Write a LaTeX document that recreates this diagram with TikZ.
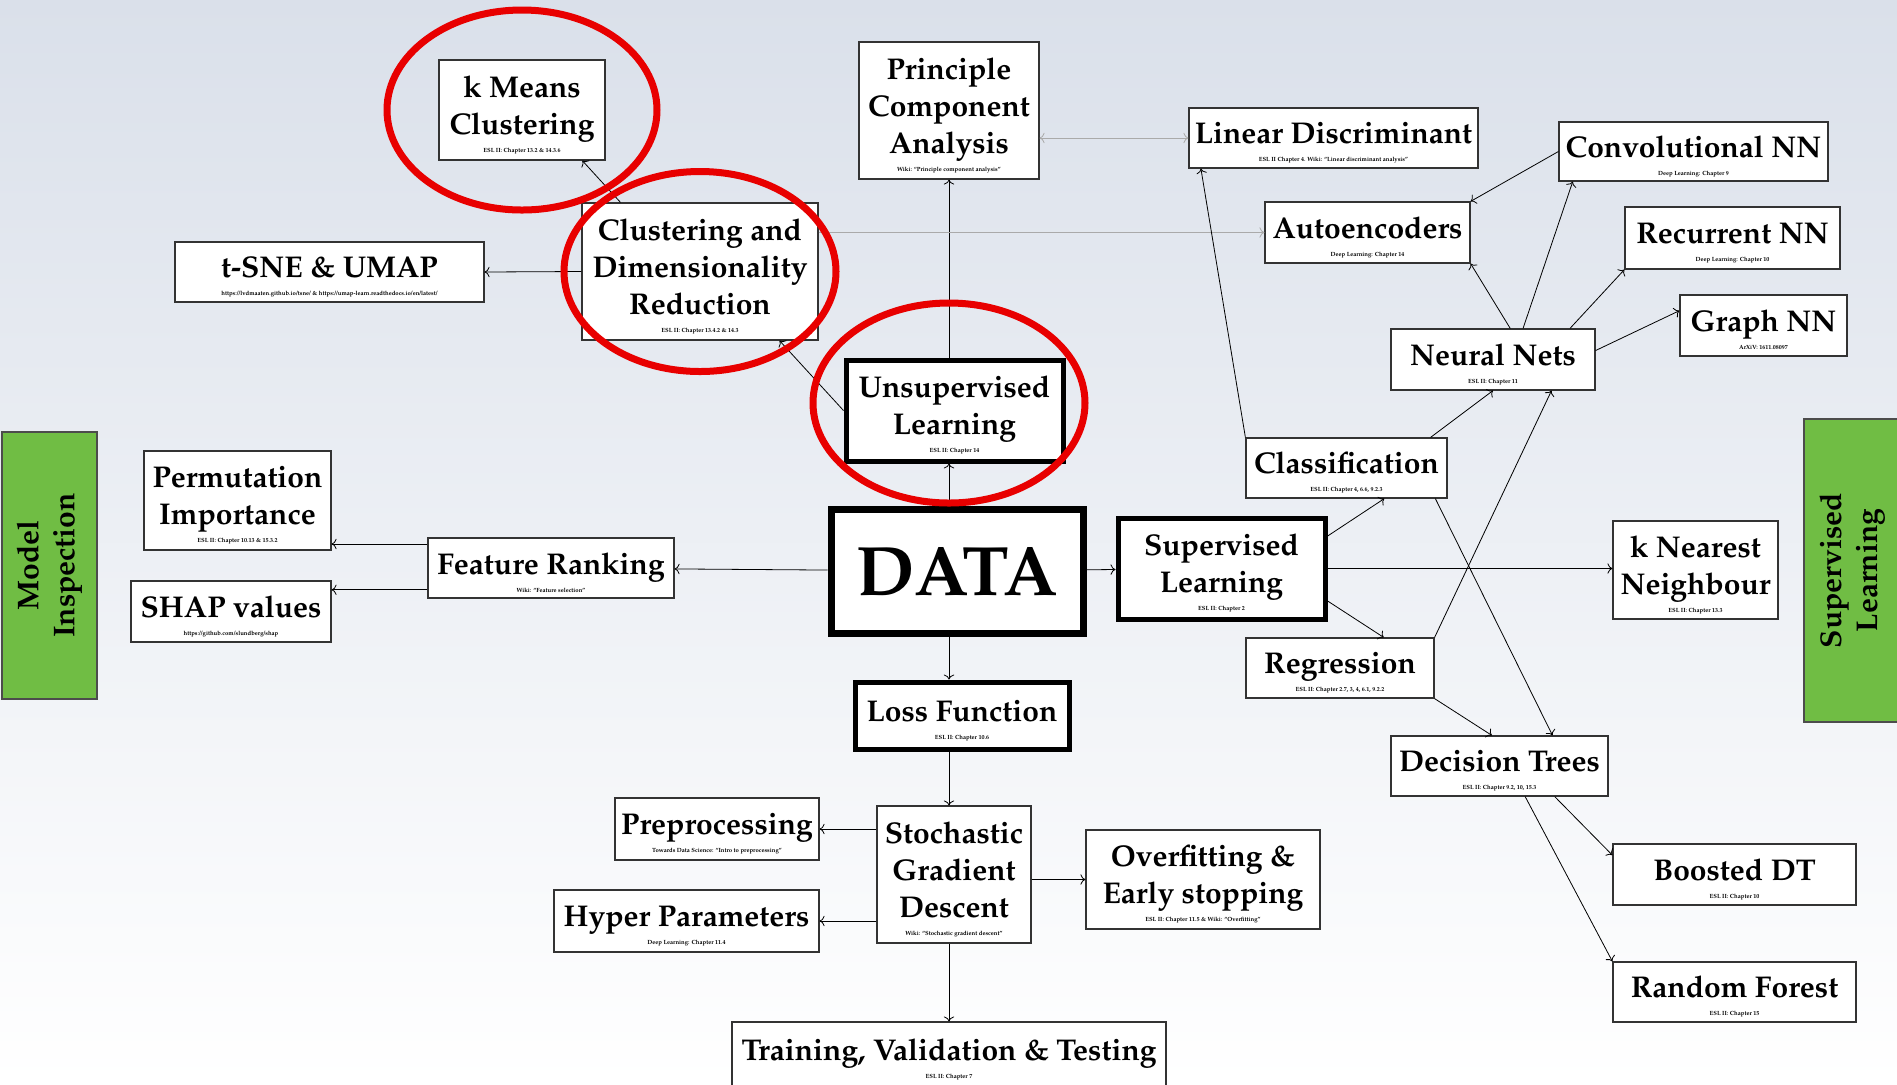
\documentclass[tikz,border=0pt]{standalone}
\usepackage[T1]{fontenc}
\usepackage{mathpazo}
\usepackage{tikz}
\usetikzlibrary{arrows.meta, positioning, calc}

\definecolor{ringred}{RGB}{232,0,0}
\definecolor{insgreen}{RGB}{112,189,68}
\definecolor{bgtop}{RGB}{218,224,234}
\definecolor{linkgrey}{RGB}{170,170,170}
\newcommand{\hd}{\rule{0pt}{15.5pt}}
\newcommand{\src}[1]{\\[-9.5pt]{\fontsize{3}{3.5}\selectfont #1}}

\begin{document}
\begin{tikzpicture}[x=0.5pt, y=-0.5pt,
    box/.style={draw=black!80, line width=0.6pt, fill=white, align=center, inner sep=1pt,
        font=\bfseries\fontsize{15}{18.5}\selectfont},
    hub/.style={box, draw=black, line width=2.5pt},
    side/.style={draw=black!70, line width=0.6pt, fill=insgreen, align=center,
        font=\bfseries\fontsize{15}{18}\selectfont},
    ring/.style={draw=ringred, line width=3.5pt}]

    % background
    \shade[top color=bgtop, middle color=bgtop!45, bottom color=white] (0,0) rectangle (1897,1084);
    \useasboundingbox (0,0) rectangle (1897,1084);

    % centre
    \node[hub, line width=3.5pt, minimum width=126pt, minimum height=62pt,
        font=\bfseries\fontsize{35}{38}\selectfont] (data) at (957,571) {DATA};

    % unsupervised
    \node[hub, minimum width=108.5pt, minimum height=50.5pt] (unsup) at (954.5,410.5)
        {\hd Unsupervised\\Learning\src{ESL II: Chapter 14}};
    \node[box, minimum width=90pt, minimum height=68.5pt] (pca) at (949,110.5)
        {\hd Principle\\Component\\Analysis\src{Wiki: ``Principle component analysis''}};
    \node[box, minimum width=118pt, minimum height=68.5pt] (cdr) at (700,271.5)
        {\hd Clustering and\\Dimensionality\\Reduction\src{ESL II: Chapter 13.4.2 \& 14.3}};
    \node[box, minimum width=83pt, minimum height=50pt] (km) at (522,110)
        {\hd k Means\\Clustering\src{ESL II: Chapter 13.2 \& 14.3.6}};
    \node[box, minimum width=154.5pt, minimum height=30pt] (tsne) at (329.5,272)
        {\hd t-SNE \& UMAP\src{https://lvdmaaten.github.io/tsne/ \& https://umap-learn.readthedocs.io/en/latest/}};
    \node[box, minimum width=102.5pt, minimum height=30.5pt] (ae) at (1367.5,232.5)
        {\hd Autoencoders\src{Deep Learning: Chapter 14}};

    % supervised
    \node[hub, minimum width=103.5pt, minimum height=50.5pt] (sup) at (1221.5,568.5)
        {\hd Supervised\\Learning\src{ESL II: Chapter 2}};
    \node[box, minimum width=100.5pt, minimum height=30pt] (cls) at (1346.5,468)
        {\hd Classification\src{ESL II: Chapter 4, 6.6, 9.2.3}};
    \node[box, minimum width=94pt, minimum height=30pt] (reg) at (1340,668)
        {\hd Regression\src{ESL II: Chapter 2.7, 3, 4, 6.1, 9.2.2}};
    \node[box, minimum width=82.5pt, minimum height=49pt] (knn) at (1695.5,570)
        {\hd k Nearest\\Neighbour\src{ESL II: Chapter 13.3}};
    \node[box, minimum width=144.5pt, minimum height=30pt] (lda) at (1333.5,138)
        {\hd Linear Discriminant\src{ESL II Chapter 4. Wiki: ``Linear discriminant analysis''}};
    \node[box, minimum width=102pt, minimum height=30.5pt] (nn) at (1493,359.5)
        {\hd Neural Nets\src{ESL II: Chapter 11}};
    \node[box, minimum width=134.5pt, minimum height=29.5pt] (cnn) at (1693.5,151.5)
        {\hd Convolutional NN\src{Deep Learning: Chapter 9}};
    \node[box, minimum width=107.5pt, minimum height=31pt] (rnn) at (1732.5,238)
        {\hd Recurrent NN\src{Deep Learning: Chapter 10}};
    \node[box, minimum width=83.5pt, minimum height=30.5pt] (gnn) at (1763.5,325.5)
        {\hd Graph NN\src{ArXiV: 1611.08097}};
    \node[box, minimum width=108.5pt, minimum height=30pt] (dt) at (1499.5,766)
        {\hd Decision Trees\src{ESL II: Chapter 9.2, 10, 15.3}};
    \node[box, minimum width=121.5pt, minimum height=30.5pt] (bdt) at (1734.5,874.5)
        {\hd Boosted DT\src{ESL II: Chapter 10}};
    \node[box, minimum width=121.5pt, minimum height=30pt] (rf) at (1734.5,992)
        {\hd Random Forest\src{ESL II: Chapter 15}};

    % inspection
    \node[box, minimum width=123pt, minimum height=30pt] (fr) at (551,568)
        {\hd Feature Ranking\src{Wiki: ``Feature selection''}};
    \node[box, minimum width=93.5pt, minimum height=49.5pt] (perm) at (237.5,500.5)
        {\hd Permutation\\Importance\src{ESL II: Chapter 10.13 \& 15.3.2}};
    \node[box, minimum width=100pt, minimum height=30.5pt] (shap) at (231,611.5)
        {\hd SHAP values\src{https://github.com/slundberg/shap}};

    % training
    \node[hub, minimum width=107pt, minimum height=33.5pt] (loss) at (962,715.5)
        {\hd Loss Function\src{ESL II: Chapter 10.6}};
    \node[box, minimum width=77pt, minimum height=68.5pt] (sgd) at (954,874.5)
        {\hd Stochastic\\Gradient\\Descent\src{Wiki: ``Stochastic gradient descent''}};
    \node[box, minimum width=102pt, minimum height=31pt] (pre) at (717,829)
        {\hd Preprocessing\src{Towards Data Science: ``Intro to preprocessing''}};
    \node[box, minimum width=132.5pt, minimum height=31pt] (hp) at (686.5,921)
        {\hd Hyper Parameters\src{Deep Learning: Chapter 11.4}};
    \node[box, minimum width=117pt, minimum height=49.5pt] (of) at (1203,879.5)
        {\hd Overfitting \&\\Early stopping\src{ESL II: Chapter 11.5 \& Wiki: ``Overfitting''}};
    \node[box, minimum width=217pt, minimum height=33pt] (tvt) at (949,1055)
        {\hd Training, Validation \& Testing\src{ESL II: Chapter 7}};

    % side labels
    \node[side, rotate=90, minimum width=133.5pt, minimum height=47.5pt] (mi) at (49.5,565.5)
        {Model\\Inspection};
    \node[side, rotate=90, minimum width=151.5pt, minimum height=48pt] (sl) at (1852,570.5)
        {Supervised\\Learning};

    % unsupervised links
    \draw[->] (data.north -| pca.south) -- (unsup.south -| pca.south);
    \draw[->] (unsup.north -| pca.south) -- (pca.south);
    \draw[->] (unsup.west) -- (cdr.-41);
    \draw[->] (cdr.139) -- (km.-40);
    \draw[->] (cdr.west) -- (tsne.east);
    \draw[->, linkgrey] (cdr.east |- ae.west) -- (ae.west);
    \draw[<->, linkgrey] (pca.east |- lda.west) -- (lda.west);

    % supervised links
    \draw[->] (data) -- (sup);
    \draw[->] (sup.17) -- (cls.-39);
    \draw[->] (sup.-17) -- (reg.35);
    \draw[->] (sup.east) -- (sup.east -| knn.west);
    \draw[->] (cls.north west) -- (lda.-167);
    \draw[->] (cls.20) -- (nn.south);
    \draw[->] (cls.-19) -- (dt.30);
    \draw[->] (reg.north east) -- (nn.-28);
    \draw[->] (reg.south east) -- (dt.104);
    \draw[->] (nn.61) -- (ae.south east);
    \draw[->] (nn.46) -- (cnn.-166);
    \draw[->] (cnn.west) -- (ae.north east);
    \draw[->] (nn.22) -- (rnn.south west);
    \draw[->] (nn.5) -- (gnn.170);
    \draw[->] (dt.-29) -- (bdt.171);
    \draw[->] (dt.-50) -- (rf.north west);

    % inspection links
    \draw[->] (data) -- (fr);
    \draw[->] (fr.169) -- (fr.169 -| perm.east);
    \draw[->] (fr.190) -- (fr.190 -| shap.east);

    % training links
    \draw[->] (data.south -| tvt.north) -- (loss.north -| tvt.north);
    \draw[->] (loss.south -| tvt.north) -- (sgd.north -| tvt.north);
    \draw[->] (sgd.west |- pre) -- (pre.east);
    \draw[->] (sgd.west |- hp) -- (hp.east);
    \draw[->] (sgd.east |- of) -- (of.west);
    \draw[->] (sgd.south -| tvt.north) -- (tvt.north);

    % highlights
    \draw[ring] (km) ellipse [x radius=67.5pt, y radius=50pt];
    \draw[ring] (cdr) ellipse [x radius=68pt, y radius=50pt];
    \draw[ring] (949,403) ellipse [x radius=68pt, y radius=50pt];
\end{tikzpicture}
\end{document}
